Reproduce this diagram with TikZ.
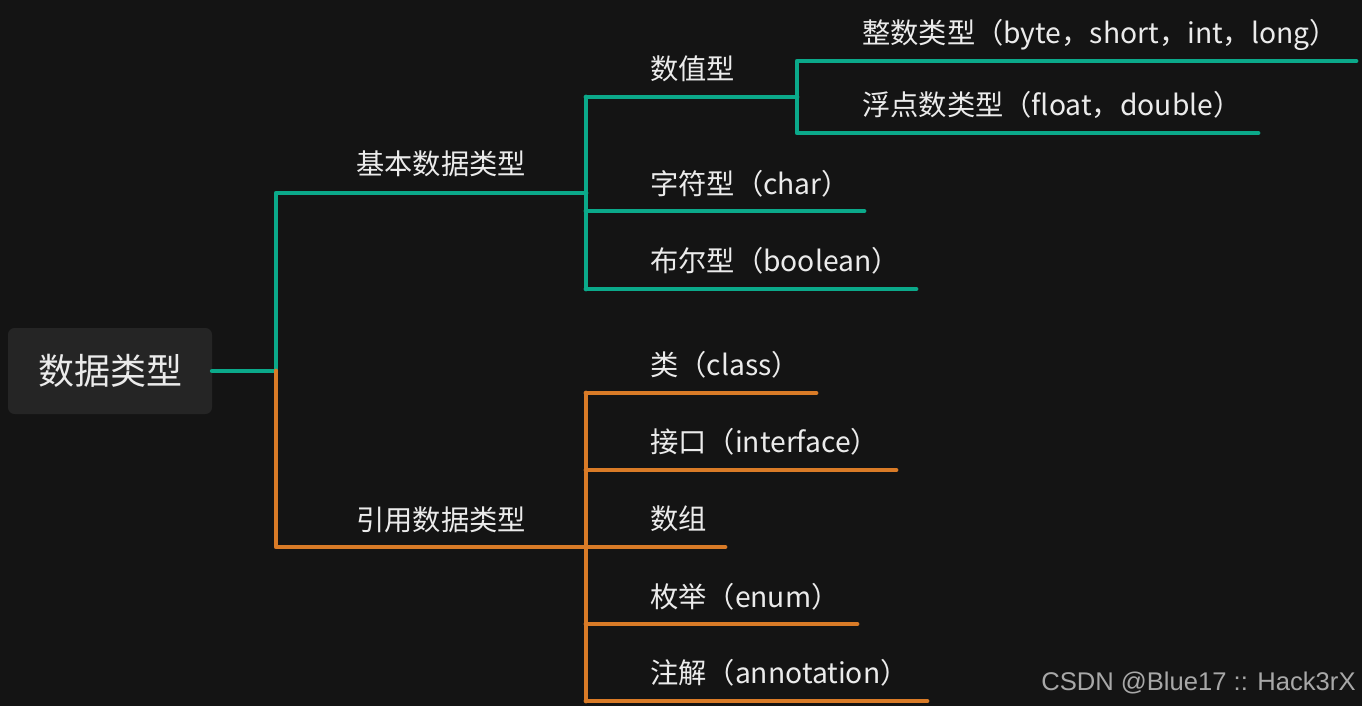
\documentclass[tikz,border=0pt]{standalone}
\usepackage{fontspec}
\newfontfamily\cjk{Noto Sans CJK SC}
\newfontfamily\wmfont{Liberation Sans}
\definecolor{bgc}{HTML}{141414}
\definecolor{boxc}{HTML}{252525}
\definecolor{txtc}{HTML}{EBEBEB}
\definecolor{grn}{HTML}{0BA98A}
\definecolor{org}{HTML}{D97B27}
\definecolor{wmc}{HTML}{A8A8A8}
\begin{document}
\begin{tikzpicture}[x=0.75pt,y=-0.75pt,
  lbl/.style={anchor=base west,inner sep=0pt,text=txtc,font=\cjk\fontsize{21.2}{24}\selectfont},
  gline/.style={draw=grn,line width=3.6pt,line cap=round,line join=round},
  oline/.style={draw=org,line width=3.6pt,line cap=round,line join=round},
  rootbox/.style={fill=boxc,rounded corners=5pt,minimum width=153pt,minimum height=64.5pt,inner sep=0pt,text=txtc,font=\cjk\fontsize{27}{30}\selectfont}]
\fill[bgc] (0,0) rectangle (1362,706);
\useasboundingbox (0,0) rectangle (1362,706);

% root
\node[rootbox] (root) at (110,371) {数据类型};

% junction coordinates
\coordinate (j0) at (276,371);
\coordinate (ga) at (276,193);
\coordinate (gb) at (586,193);
\coordinate (oa) at (276,547);
\coordinate (ob) at (586,547);

% green level 2
\coordinate (gt) at (586,97);
\coordinate (gm) at (586,211);
\coordinate (gbot) at (586,289);
\coordinate (e1) at (797,97);
\coordinate (e2) at (864,211);
\coordinate (e3) at (916,289);
% green level 3
\coordinate (h1) at (797,61);
\coordinate (h2) at (797,133);
\coordinate (f1) at (1356,61);
\coordinate (f2) at (1258,133);

% orange level 2
\coordinate (ot) at (586,393);
\coordinate (o2) at (586,470);
\coordinate (o4) at (586,624);
\coordinate (obot) at (586,701);
\coordinate (p1) at (816,393);
\coordinate (p2) at (896,470);
\coordinate (p3) at (725,547);
\coordinate (p4) at (857,624);
\coordinate (p5) at (927,701);

% connectors
\draw[gline] (root.east) -- (j0) -- (ga) -- (gb);
\draw[oline] (j0) -- (oa) -- (ob);
\draw[gline] (gt) -- (gbot);
\draw[gline] (gt) -- (e1);
\draw[gline] (gm) -- (e2);
\draw[gline] (gbot) -- (e3);
\draw[gline] (e1) -- (h1) -- (f1);
\draw[gline] (e1) -- (h2) -- (f2);
\draw[oline] (ot) -- (obot);
\draw[oline] (ot) -- (p1);
\draw[oline] (o2) -- (p2);
\draw[oline] (ob) -- (p3);
\draw[oline] (o4) -- (p4);
\draw[oline] (obot) -- (p5);

% labels
\node[lbl] (l1a) at (356,175) {基本数据类型};
\node[lbl] (l1b) at (356,530) {引用数据类型};
\node[lbl] (n1) at (650,80) {数值型};
\node[lbl] (n2) at (650,194) {字符型（char）};
\node[lbl] (n3) at (650,271) {布尔型（boolean）};
\node[lbl] (m1) at (862,44) {整数类型（byte，short，int，long）};
\node[lbl] (m2) at (862,116) {浮点数类型（float，double）};
\node[lbl] (r1) at (650,375) {类（class）};
\node[lbl] (r2) at (650,452) {接口（interface）};
\node[lbl] (r3) at (650,529) {数组};
\node[lbl] (r4) at (650,607) {枚举（enum）};
\node[lbl] (r5) at (650,683) {注解（annotation）};

% watermark
\node[anchor=base west,inner sep=0pt,text=wmc,font=\wmfont\fontsize{19.2}{22}\selectfont] (wm) at (1041,690.5) {CSDN @Blue17 :: Hack3rX};
\end{tikzpicture}
\end{document}
